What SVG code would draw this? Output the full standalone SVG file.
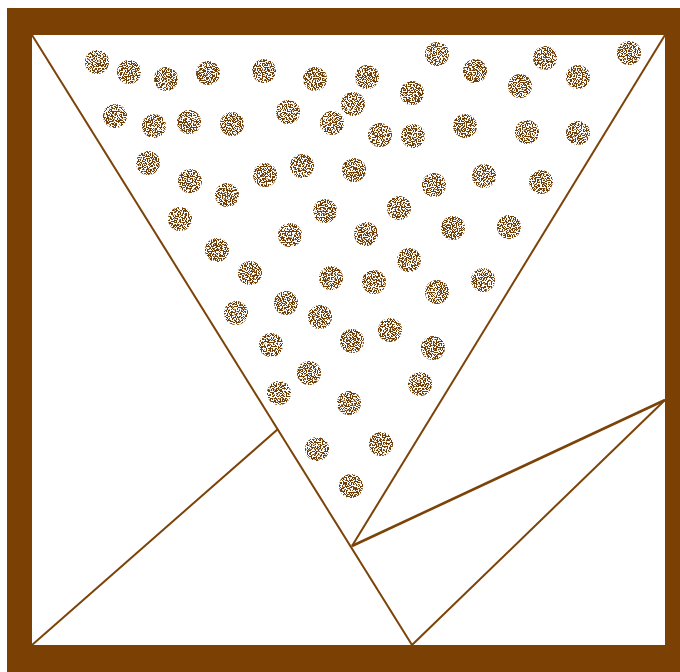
<svg xmlns="http://www.w3.org/2000/svg" width="680" height="672" viewBox="0 0 680 672">
<style>
.ln{stroke:#7B4308;stroke-width:2;fill:none}
.dot{fill:#6E3A06;filter:url(#speck)}
</style>
<defs>
<filter id="speck" x="-20%" y="-20%" width="140%" height="140%">
<feTurbulence type="fractalNoise" baseFrequency="0.8" numOctaves="1" seed="3" result="n"/>
<feColorMatrix in="n" type="matrix" values="0 0 0 0 0  0 0 0 0 0  0 0 0 0 0  0 0 0 -30 15.6" result="m"/>
<feComposite in="SourceGraphic" in2="m" operator="in"/>
</filter>
</defs>
<rect x="0" y="0" width="680" height="672" fill="#fff"/>
<g id="frame">
<path d="M7 8H680V672H7Z M32 35V645H665V35Z" fill="#7B4004" fill-rule="evenodd"/>
</g>
<g id="lines">
<line class="ln" x1="32" y1="35" x2="412" y2="645"/>
<line class="ln" x1="665" y1="35" x2="352" y2="546"/>
<line class="ln" x1="352" y1="546" x2="665" y2="400" style="stroke-width:2.6"/>
<line class="ln" x1="412" y1="645" x2="665" y2="400"/>
<line class="ln" x1="32" y1="645" x2="278" y2="429"/>
</g>
<g id="dots">
<circle class="dot" cx="97" cy="62" r="12"/><circle class="dot" cx="129" cy="72" r="12"/><circle class="dot" cx="166" cy="79" r="12"/><circle class="dot" cx="208" cy="73" r="12"/><circle class="dot" cx="264" cy="71" r="12"/><circle class="dot" cx="315" cy="79" r="12"/><circle class="dot" cx="367" cy="77" r="12"/><circle class="dot" cx="437" cy="54" r="12"/><circle class="dot" cx="475" cy="71" r="12"/><circle class="dot" cx="520" cy="86" r="12"/><circle class="dot" cx="545" cy="58" r="12"/><circle class="dot" cx="578" cy="77" r="12"/><circle class="dot" cx="629" cy="53" r="12"/><circle class="dot" cx="412" cy="93" r="12"/><circle class="dot" cx="353" cy="104" r="12"/>
<circle class="dot" cx="115" cy="116" r="12"/><circle class="dot" cx="154" cy="126" r="12"/><circle class="dot" cx="189" cy="122" r="12"/><circle class="dot" cx="232" cy="124" r="12"/><circle class="dot" cx="288" cy="112" r="12"/><circle class="dot" cx="332" cy="123" r="12"/><circle class="dot" cx="380" cy="135" r="12"/><circle class="dot" cx="413" cy="136" r="12"/><circle class="dot" cx="465" cy="126" r="12"/><circle class="dot" cx="527" cy="132" r="12"/><circle class="dot" cx="578" cy="133" r="12"/>
<circle class="dot" cx="148" cy="163" r="12"/><circle class="dot" cx="190" cy="181" r="12"/><circle class="dot" cx="227" cy="195" r="12"/><circle class="dot" cx="265" cy="175" r="12"/><circle class="dot" cx="302" cy="166" r="12"/><circle class="dot" cx="354" cy="170" r="12"/><circle class="dot" cx="434" cy="185" r="12"/><circle class="dot" cx="484" cy="176" r="12"/><circle class="dot" cx="541" cy="182" r="12"/><circle class="dot" cx="399" cy="208" r="12"/>
<circle class="dot" cx="180" cy="219" r="12"/><circle class="dot" cx="217" cy="250" r="12"/><circle class="dot" cx="290" cy="235" r="12"/><circle class="dot" cx="325" cy="211" r="12"/><circle class="dot" cx="366" cy="234" r="12"/><circle class="dot" cx="409" cy="260" r="12"/><circle class="dot" cx="453" cy="228" r="12"/><circle class="dot" cx="509" cy="227" r="12"/>
<circle class="dot" cx="250" cy="273" r="12"/><circle class="dot" cx="236" cy="313" r="12"/><circle class="dot" cx="286" cy="303" r="12"/><circle class="dot" cx="320" cy="317" r="12"/><circle class="dot" cx="331" cy="278" r="12"/><circle class="dot" cx="374" cy="282" r="12"/><circle class="dot" cx="437" cy="292" r="12"/><circle class="dot" cx="483" cy="280" r="12"/>
<circle class="dot" cx="271" cy="345" r="12"/><circle class="dot" cx="352" cy="341" r="12"/><circle class="dot" cx="390" cy="330" r="12"/><circle class="dot" cx="433" cy="348" r="12"/>
<circle class="dot" cx="279" cy="393" r="12"/><circle class="dot" cx="309" cy="373" r="12"/><circle class="dot" cx="349" cy="403" r="12"/><circle class="dot" cx="420" cy="384" r="12"/>
<circle class="dot" cx="317" cy="449" r="12"/><circle class="dot" cx="381" cy="444" r="12"/><circle class="dot" cx="351" cy="486" r="12"/>
</g>
</svg>
